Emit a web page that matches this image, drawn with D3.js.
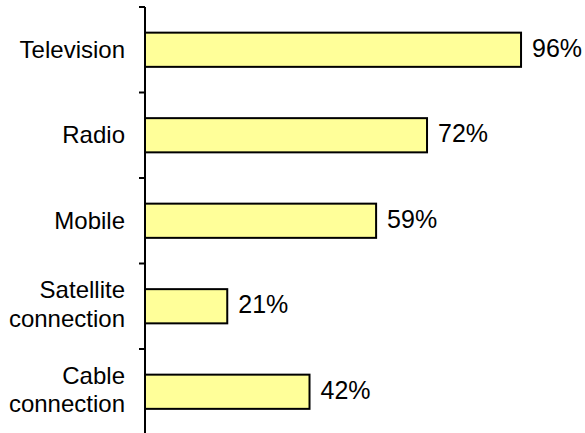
<!DOCTYPE html>
<html>
<head>
<meta charset="utf-8">
<script src="https://cdn.jsdelivr.net/npm/d3@7"></script>
<style>
  html, body { margin: 0; padding: 0; background: #fff; }
  svg { display: block; }
</style>
</head>
<body>
<svg id="chart" width="585" height="433"></svg>
<script>
// Share of respondents by media channel
const categories = [["Television"], ["Radio"], ["Mobile"], ["Satellite", "connection"], ["Cable", "connection"]];
const values = [96, 72, 59, 21, 42];
const valueLabels = ["96%", "72%", "59%", "21%", "42%"];

const svg = d3.select("#chart");
const axisX = 145;

const keys = categories.map(c => c.join(" "));
const y = d3.scaleBand()
  .domain(keys)
  .range([7, 434.5])
  .paddingInner(0.6)
  .paddingOuter(0.3);

const x = d3.scaleLinear().domain([0, 100]).range([axisX, axisX + 391.7]);

// Bars
svg.selectAll("rect.bar")
  .data(values)
  .join("rect")
  .attr("class", "bar")
  .attr("x", x(0))
  .attr("y", (d, i) => y(keys[i]))
  .attr("width", d => x(d) - x(0))
  .attr("height", y.bandwidth())
  .attr("fill", "#FFFF99")
  .attr("stroke", "#000")
  .attr("stroke-width", 2);

// Value labels
svg.selectAll("text.val")
  .data(values)
  .join("text")
  .attr("class", "val")
  .attr("x", d => x(d) + 11)
  .attr("y", (d, i) => y(keys[i]) + y.bandwidth() / 2 + 7)
  .attr("font-family", "Arial, 'Liberation Sans', sans-serif")
  .attr("font-size", 25)
  .attr("fill", "#000")
  .text((d, i) => valueLabels[i]);

// Vertical axis line with ticks on category boundaries
const step = y.step();
const top0 = y.range()[0];
svg.append("line")
  .attr("x1", axisX).attr("x2", axisX)
  .attr("y1", top0).attr("y2", 433)
  .attr("stroke", "#000").attr("stroke-width", 2);

const bounds = d3.range(keys.length + 1).map(i => top0 + i * step);
svg.selectAll("line.tick")
  .data(bounds)
  .join("line")
  .attr("class", "tick")
  .attr("x1", axisX - 6).attr("x2", axisX)
  .attr("y1", d => d).attr("y2", d => d)
  .attr("stroke", "#000").attr("stroke-width", 2);

// Category labels
const lineGap = 28.5;
const labels = svg.selectAll("text.cat")
  .data(categories)
  .join("text")
  .attr("class", "cat")
  .attr("text-anchor", "end")
  .attr("font-family", "Arial, 'Liberation Sans', sans-serif")
  .attr("font-size", 24)
  .attr("fill", "#000");

labels.each(function(lines, i) {
  const cy = y(keys[i]) + y.bandwidth() / 2;
  const firstBase = cy + 8 - (lines.length - 1) * (lineGap / 2 + 1.7);
  d3.select(this).selectAll("tspan")
    .data(lines)
    .join("tspan")
    .attr("x", 125)
    .attr("y", (l, j) => firstBase + j * lineGap)
    .text(l => l);
});
</script>
</body>
</html>
